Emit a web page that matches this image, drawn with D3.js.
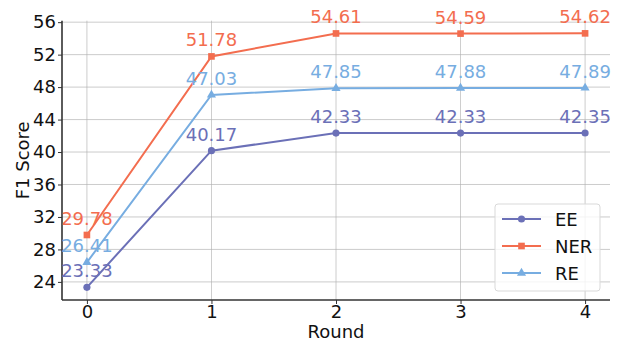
<!DOCTYPE html>
<html>
<head>
<meta charset="utf-8">
<script src="https://cdn.jsdelivr.net/npm/d3@7"></script>
<style>
  body { margin: 0; background: #fff; }
  svg text { font-family: "DejaVu Sans", sans-serif; }
</style>
</head>
<body>
<div id="chart"></div>
<script>
// data
const rounds = [0, 1, 2, 3, 4];
const eeScores = [23.33, 40.17, 42.33, 42.33, 42.35];
const nerScores = [29.78, 51.78, 54.61, 54.59, 54.62];
const reScores = [26.41, 47.03, 47.85, 47.88, 47.89];
const seriesNames = ["EE", "NER", "RE"];
const yTicks = [24, 28, 32, 36, 40, 44, 48, 52, 56];

const colors = {EE: "#6b70b7", NER: "#f36d4f", RE: "#77ade1"};
const markers = {EE: d3.symbolCircle, NER: d3.symbolSquare, RE: d3.symbolTriangle};
const markerSize = {EE: 40, NER: 44, RE: 36};
const fontSize = "18px";

const series = [
    {name: "EE", values: eeScores},
    {name: "NER", values: nerScores},
    {name: "RE", values: reScores}
];

const W = 620, H = 341;
const margin = {top: 20.7, right: 10, bottom: 41, left: 62};
const width = W - margin.left - margin.right;
const height = H - margin.top - margin.bottom;

const svg = d3.select("#chart").append("svg")
    .attr("width", W)
    .attr("height", H);

const g = svg.append("g")
    .attr("transform", "translate(" + margin.left + "," + margin.top + ")");

// scales (matplotlib style 5% margins)
const x = d3.scaleLinear().domain([-0.2, 4.2]).range([0, width]);
const y = d3.scaleLinear().domain([21.77, 56.18]).range([height, 0]);

// grid
g.append("g").selectAll("line").data(rounds).join("line")
    .attr("x1", d => x(d)).attr("x2", d => x(d))
    .attr("y1", 0).attr("y2", height)
    .attr("stroke", "#b0b0b0").attr("stroke-width", 0.8).attr("opacity", 0.8);
g.append("g").selectAll("line").data(yTicks).join("line")
    .attr("x1", 0).attr("x2", width)
    .attr("y1", d => y(d)).attr("y2", d => y(d))
    .attr("stroke", "#b0b0b0").attr("stroke-width", 0.8).attr("opacity", 0.8);

// axes
const xAxis = d3.axisBottom(x).tickValues(rounds).tickFormat(d3.format("d"))
    .tickSize(4).tickPadding(1);
const yAxis = d3.axisLeft(y).tickValues(yTicks).tickFormat(d3.format("d"))
    .tickSize(4).tickPadding(2);

const gx = g.append("g")
    .attr("transform", "translate(0," + height + ")")
    .call(xAxis);
const gy = g.append("g").call(yAxis);

[gx, gy].forEach(ax => {
    ax.select(".domain").attr("stroke", "#333").attr("stroke-width", 1.6);
    ax.selectAll(".tick line").attr("stroke", "#333").attr("stroke-width", 1);
    ax.selectAll(".tick text").attr("fill", "#111").style("font-size", fontSize);
});
gx.select(".domain").attr("d", "M0,0H" + width);
gy.select(".domain").attr("d", "M0," + height + "V0");

// axis labels
svg.append("text")
    .attr("x", margin.left + x(2))
    .attr("y", 337.5)
    .attr("text-anchor", "middle")
    .style("font-size", fontSize)
    .attr("fill", "#111")
    .text("Round");

svg.append("text")
    .attr("transform", "translate(28.5," + (margin.top + height / 2) + ") rotate(-90)")
    .attr("text-anchor", "middle")
    .style("font-size", fontSize)
    .attr("fill", "#111")
    .text("F1 Score");

// lines, markers and value labels
const line = d3.line()
    .x((d, i) => x(rounds[i]))
    .y(d => y(d));

series.forEach(s => {
    const c = colors[s.name];
    g.append("path")
        .datum(s.values)
        .attr("d", line)
        .attr("fill", "none")
        .attr("stroke", c)
        .attr("stroke-width", 2);

    g.append("g").selectAll("path").data(s.values).join("path")
        .attr("d", d3.symbol().type(markers[s.name]).size(markerSize[s.name]))
        .attr("transform", (d, i) => "translate(" + x(rounds[i]) + "," + y(d) + ")")
        .attr("fill", c);

    g.append("g").selectAll("text").data(s.values).join("text")
        .attr("x", (d, i) => x(rounds[i]))
        .attr("y", d => y(d) - 10)
        .attr("text-anchor", "middle")
        .attr("fill", c)
        .style("font-size", fontSize)
        .text(d => d3.format(".2f")(d));
});

// legend
const legend = svg.append("g").attr("transform", "translate(495,204)");
legend.append("rect")
    .attr("width", 105).attr("height", 87)
    .attr("rx", 3)
    .attr("fill", "#fff").attr("fill-opacity", 0.8)
    .attr("stroke", "#d9d9d9");

seriesNames.forEach((name, i) => {
    const row = legend.append("g").attr("transform", "translate(0," + (15 + i * 27) + ")");
    row.append("line")
        .attr("x1", 7).attr("x2", 46)
        .attr("stroke", colors[name]).attr("stroke-width", 2);
    row.append("path")
        .attr("d", d3.symbol().type(markers[name]).size(markerSize[name]))
        .attr("transform", "translate(26.5,0)")
        .attr("fill", colors[name]);
    row.append("text")
        .attr("x", 60).attr("y", 6.5)
        .style("font-size", fontSize)
        .attr("fill", "#111")
        .text(name);
});
</script>
</body>
</html>
